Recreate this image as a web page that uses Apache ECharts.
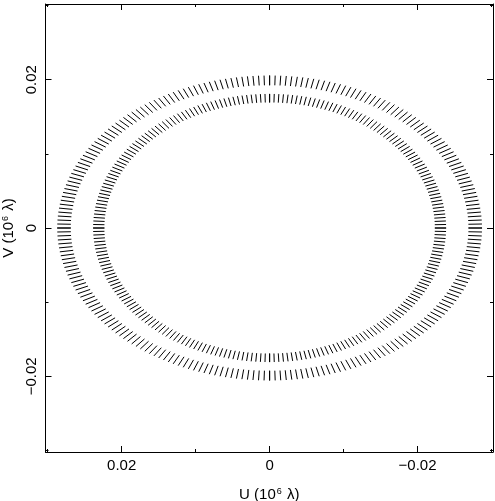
<!DOCTYPE html>
<html>
<head>
<meta charset="utf-8">
<script src="https://cdn.jsdelivr.net/npm/echarts@6/dist/echarts.min.js"></script>
<style>
html,body{margin:0;padding:0;background:#fff;}
#chart{width:495px;height:501px;}
</style>
</head>
<body>
<div id="chart"></div>
<script>
// UV coverage: one quadrant of each track (units of 10^6 lambda).
// The full ellipse follows from the mirror / conjugate (u,v) -> (-u,-v) symmetry of the plot.
const outerU = [0,0.000728,0.001455,0.002181,0.002906,0.003629,0.004349,0.005066,0.005780,0.006490,0.007195,0.007896,0.008591,0.009280,0.009963,0.010639,0.011307,0.011968,0.012621,0.013265,0.013900,0.014526,0.015141,0.015746,0.016341,0.016924,0.017495,0.018055,0.018602,0.019136,0.019658,0.020165,0.020659,0.021139,0.021605,0.022055,0.022491,0.022911,0.023315,0.023703,0.024076,0.024431,0.024770,0.025092,0.025397,0.025684,0.025954,0.026205,0.026439,0.026655,0.026853,0.027032,0.027193,0.027334,0.027458,0.027562,0.027648,0.027714,0.027762,0.027791,0.027800];
const outerV = [0.019900,0.019893,0.019873,0.019839,0.019791,0.019730,0.019655,0.019567,0.019465,0.019350,0.019222,0.019081,0.018926,0.018759,0.018578,0.018385,0.018180,0.017962,0.017731,0.017489,0.017234,0.016968,0.016690,0.016400,0.016099,0.015788,0.015465,0.015132,0.014788,0.014435,0.014071,0.013698,0.013316,0.012924,0.012523,0.012114,0.011697,0.011272,0.010838,0.010398,0.009950,0.009495,0.009034,0.008567,0.008094,0.007615,0.007132,0.006643,0.006149,0.005652,0.005151,0.004646,0.004137,0.003627,0.003113,0.002598,0.002080,0.001561,0.001042,0.000521,0];
const innerU = [0,0.000605,0.001209,0.001812,0.002415,0.003015,0.003614,0.004210,0.004803,0.005393,0.005979,0.006561,0.007138,0.007711,0.008278,0.008840,0.009396,0.009945,0.010487,0.011022,0.011550,0.012070,0.012581,0.013084,0.013578,0.014062,0.014537,0.015002,0.015457,0.015901,0.016334,0.016756,0.017167,0.017565,0.017952,0.018326,0.018688,0.019037,0.019373,0.019696,0.020005,0.020301,0.020582,0.020850,0.021103,0.021342,0.021566,0.021775,0.021969,0.022149,0.022313,0.022462,0.022595,0.022713,0.022816,0.022902,0.022973,0.023029,0.023068,0.023092,0.023100];
const innerV = [0.017500,0.017494,0.017476,0.017446,0.017404,0.017350,0.017285,0.017207,0.017118,0.017016,0.016904,0.016779,0.016644,0.016496,0.016338,0.016168,0.015987,0.015795,0.015593,0.015379,0.015156,0.014921,0.014677,0.014422,0.014158,0.013884,0.013600,0.013307,0.013005,0.012694,0.012374,0.012046,0.011710,0.011365,0.011013,0.010653,0.010286,0.009912,0.009531,0.009144,0.008750,0.008350,0.007945,0.007534,0.007118,0.006697,0.006271,0.005842,0.005408,0.004970,0.004529,0.004085,0.003638,0.003189,0.002738,0.002284,0.001829,0.001373,0.000916,0.000458,0];
// relative frequency span of the channels in each sample (radial smearing)
const channelScale = [0.967, 1.033];
const majorTicks = [-0.02, 0, 0.02];
const minorTicks = [-0.03, -0.01, 0.01, 0.03];

function fullTrack(us, vs) {
  const pts = [];
  for (let i = 0; i < us.length; i++) {
    pts.push([us[i], vs[i]], [-us[i], vs[i]], [us[i], -vs[i]], [-us[i], -vs[i]]);
  }
  return pts;
}

const FONT = 'Liberation Sans';
const XMIN = -0.0302, XMAX = 0.0303, YMIN = -0.0302, YMAX = 0.0302;
function fmt(v) {
  if (Math.abs(v) < 1e-9) return '0';
  return (v < 0 ? '\u22120.' : '0.') + Math.round(Math.abs(v) * 100).toString().padStart(2, '0');
}
const lineStyle = {color: '#000', width: 1};
const nameRich = {
  n: {fontFamily: FONT, fontSize: 15, color: '#000'},
  s: {fontFamily: FONT, fontSize: 9, color: '#000', verticalAlign: 'top', padding: [0, 1, 7, 1]}
};

function xAx(pos, custom, len, labels, line, name) {
  return {
    type: 'value', position: pos, min: XMIN, max: XMAX, inverse: true, gridIndex: 0,
    axisLine: {show: line, onZero: false, lineStyle: lineStyle},
    axisTick: {show: true, inside: true, length: len, customValues: custom, lineStyle: lineStyle},
    axisLabel: {show: labels, customValues: custom, formatter: fmt, margin: 6,
      fontFamily: FONT, fontSize: 15, color: '#000'},
    splitLine: {show: false},
    name: name || '', nameLocation: 'middle', nameGap: 35,
    nameTextStyle: {rich: nameRich}
  };
}
function yAx(pos, custom, len, labels, line, name) {
  return {
    type: 'value', position: pos, min: YMIN, max: YMAX, gridIndex: 0,
    axisLine: {show: line, onZero: false, lineStyle: lineStyle},
    axisTick: {show: true, inside: true, length: len, customValues: custom, lineStyle: lineStyle},
    axisLabel: {show: labels, customValues: custom, formatter: fmt, margin: 6, rotate: 90,
      fontFamily: FONT, fontSize: 15, color: '#000'},
    splitLine: {show: false},
    name: name || '', nameLocation: 'middle', nameGap: 25, nameRotate: 90,
    nameTextStyle: {rich: nameRich}
  };
}

function dashSeries(us, vs) {
  return {
    type: 'custom', coordinateSystem: 'cartesian2d', xAxisIndex: 0, yAxisIndex: 0,
    data: fullTrack(us, vs), encode: {x: 0, y: 1}, silent: true,
    renderItem: function (params, api) {
      const u = api.value(0), v = api.value(1);
      const p1 = api.coord([u * channelScale[0], v * channelScale[0]]);
      const p2 = api.coord([u * channelScale[1], v * channelScale[1]]);
      return {type: 'line', shape: {x1: p1[0], y1: p1[1], x2: p2[0], y2: p2[1]},
        style: {stroke: '#000', lineWidth: 1}};
    }
  };
}

const chart = echarts.init(document.getElementById('chart'), null, {renderer: 'canvas'});
chart.setOption({
  animation: false,
  backgroundColor: '#fff',
  grid: {left: 45.5, right: 2, top: 4, bottom: 49, outerBoundsMode: 'none', containLabel: false},
  xAxis: [
    xAx('bottom', majorTicks, 6, true, true, '{n|U (10}{s|6}{n| \u03bb)}'),
    xAx('bottom', minorTicks, 3, false, false),
    xAx('top', majorTicks, 6, false, true),
    xAx('top', minorTicks, 3, false, false)
  ],
  yAxis: [
    yAx('left', majorTicks, 6, true, true, '{n|V (10}{s|6}{n| \u03bb)}'),
    yAx('left', minorTicks, 3, false, false),
    yAx('right', majorTicks, 6, false, true),
    yAx('right', minorTicks, 3, false, false)
  ],
  series: [dashSeries(outerU, outerV), dashSeries(innerU, innerV)]
});
</script>
</body>
</html>
